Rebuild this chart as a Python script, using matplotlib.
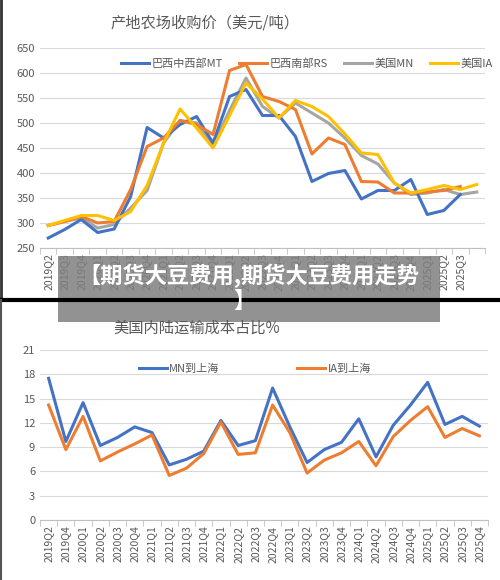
import numpy as np
import matplotlib
matplotlib.use("Agg")
import matplotlib.pyplot as plt
from matplotlib.patches import Rectangle
from matplotlib.lines import Line2D

plt.rcParams['font.family'] = ['Noto Sans CJK SC', 'DejaVu Sans']

# top chart: farm purchase prices (USD/t)
top_labels = ["2019Q2", "2019Q3", "2019Q4"] + [f"{y}Q{q}" for y in range(2020, 2025) for q in range(1, 5)] + ["2025Q1", "2025Q2", "2025Q3", ""]
mt = [270, 287, 307, 281, 288, 353, 491, 470, 497, 513, 460, 553, 567, 515, 515, 473, 383, 399, 405, 348,
      365, 365, 387, 317, 325, 357, np.nan]
rs = [295, 303, 313, 300, 303, 367, 453, 470, 505, 497, 477, 605, 617, 553, 543, 527, 438, 470, 457, 383,
      382, 360, 360, 362, 365, 373, np.nan]
mn = [295, 303, 310, 290, 297, 330, 365, 460, 505, 500, 455, 525, 590, 533, 510, 540, 520, 500, 470, 435,
      418, 380, 357, 360, 367, 357, 362]
ia = [295, 305, 315, 315, 305, 323, 375, 460, 528, 490, 450, 515, 580, 548, 510, 545, 533, 513, 478, 440,
      437, 380, 360, 367, 375, 367, 377]

# bottom chart: US inland freight share (%)
bot_labels = ["2019Q2", "2019Q4"] + [f"{y}Q{q}" for y in range(2020, 2026) for q in range(1, 5)]
mn_sh = [17.5, 9.7, 14.5, 9.2, 10.2, 11.5, 10.8, 6.8, 7.5, 8.5, 12.3, 9.2, 9.8, 16.3, 11.5, 7.1, 8.7, 9.6,
         12.5, 7.8, 11.7, 14.2, 17.0, 11.8, 12.8, 11.6]
ia_sh = [14.2, 8.7, 12.8, 7.3, 8.4, 9.4, 10.5, 5.5, 6.4, 8.2, 12.1, 8.1, 8.3, 14.2, 10.8, 5.8, 7.4, 8.3,
         9.7, 6.7, 10.3, 12.3, 14.0, 10.2, 11.3, 10.4]

BLUE, ORANGE, GRAY, GOLD = "#4472C4", "#ED7D31", "#A5A5A5", "#FFC000"
TXT = "#595959"
W, H = 500, 580
fig = plt.figure(figsize=(W / 100, H / 100), dpi=100)


def px_axes(x0, y0, x1, y1):
    return fig.add_axes([x0 / W, 1 - y1 / H, (x1 - x0) / W, (y1 - y0) / H])


def style(ax, n, labels, yticks):
    ax.set_xlim(-0.5, n - 0.5)
    ax.set_ylim(yticks[0], yticks[-1])
    ax.set_yticks(yticks)
    ax.set_xticks(range(n))
    ax.set_xticklabels(labels, rotation=90, fontsize=7.5, color=TXT)
    ax.set_xticks(np.arange(-0.5, n, 1), minor=True)
    ax.tick_params(axis='x', which='major', length=0, pad=4)
    ax.tick_params(axis='x', which='minor', length=4, color="#BFBFBF")
    ax.tick_params(axis='y', length=0, labelsize=8, labelcolor=TXT)
    ax.grid(axis='y', color="#D9D9D9", lw=0.8)
    ax.set_axisbelow(True)
    for s in ["top", "right", "left"]:
        ax.spines[s].set_visible(False)
    ax.spines["bottom"].set_color("#BFBFBF")


ax1 = px_axes(40, 48, 485, 248)
x = np.arange(len(top_labels))
ax1.plot(x, mn, color=GRAY, lw=2.2, label="美国MN")
ax1.plot(x, mt, color=BLUE, lw=2.2, label="巴西中西部MT")
ax1.plot(x, rs, color=ORANGE, lw=2.2, label="巴西南部RS")
ax1.plot(x, ia, color=GOLD, lw=2.2, label="美国IA")
style(ax1, len(top_labels), top_labels, [250, 300, 350, 400, 450, 500, 550, 600, 650])
h, l = ax1.get_legend_handles_labels()
order = [1, 2, 0, 3]
ax1.legend([h[i] for i in order], [l[i] for i in order], loc="upper center", bbox_to_anchor=(0.6, 1.0),
           ncol=4, frameon=False, fontsize=8, labelcolor=TXT, handlelength=2.5, columnspacing=1.5,
           handletextpad=0.2)
fig.text(205 / W, 1 - 23 / H, "产地农场收购价（美元/吨）", ha="center", va="center", fontsize=11, color=TXT)

ax2 = px_axes(40, 350, 488, 520)
x2 = np.arange(len(bot_labels))
ax2.plot(x2, mn_sh, color=BLUE, lw=2.2, label="MN到上海")
ax2.plot(x2, ia_sh, color=ORANGE, lw=2.2, label="IA到上海")
style(ax2, len(bot_labels), bot_labels, [0, 3, 6, 9, 12, 15, 18, 21])
ax2.legend(loc="upper center", bbox_to_anchor=(0.48, 0.98), ncol=2, frameon=False, fontsize=8,
           labelcolor=TXT, handlelength=2.5, columnspacing=7, handletextpad=0.2)
fig.text(197 / W, 1 - 328 / H, "美国内陆运输成本占比%", ha="center", va="center", fontsize=11, color=TXT)

# frame of the upper panel
fig.add_artist(Line2D([1 / W, 1 / W], [1 - 300 / H, 1], color="#333333", lw=2))
fig.add_artist(Line2D([0, 1], [1 - 300 / H, 1 - 300 / H], color="black", lw=3))
fig.add_artist(Line2D([1 / W, 1 / W], [0, 1 - 300 / H], color="#555555", lw=1.5))

# overlay banner
fig.add_artist(Rectangle((58 / W, 1 - 322 / H), (440 - 58) / W, (322 - 256) / H,
                         facecolor="#7F7F7F", alpha=0.85, edgecolor="none"))
fig.text(249 / W, 1 - 276 / H, "【期货大豆费用,期货大豆费用走势", ha="center", va="center",
         fontsize=16, fontweight="bold", color="white")
fig.text(245 / W, 1 - 301 / H, "】", ha="center", va="center", fontsize=16, fontweight="bold", color="white")

fig.savefig("out.png", dpi=100)
